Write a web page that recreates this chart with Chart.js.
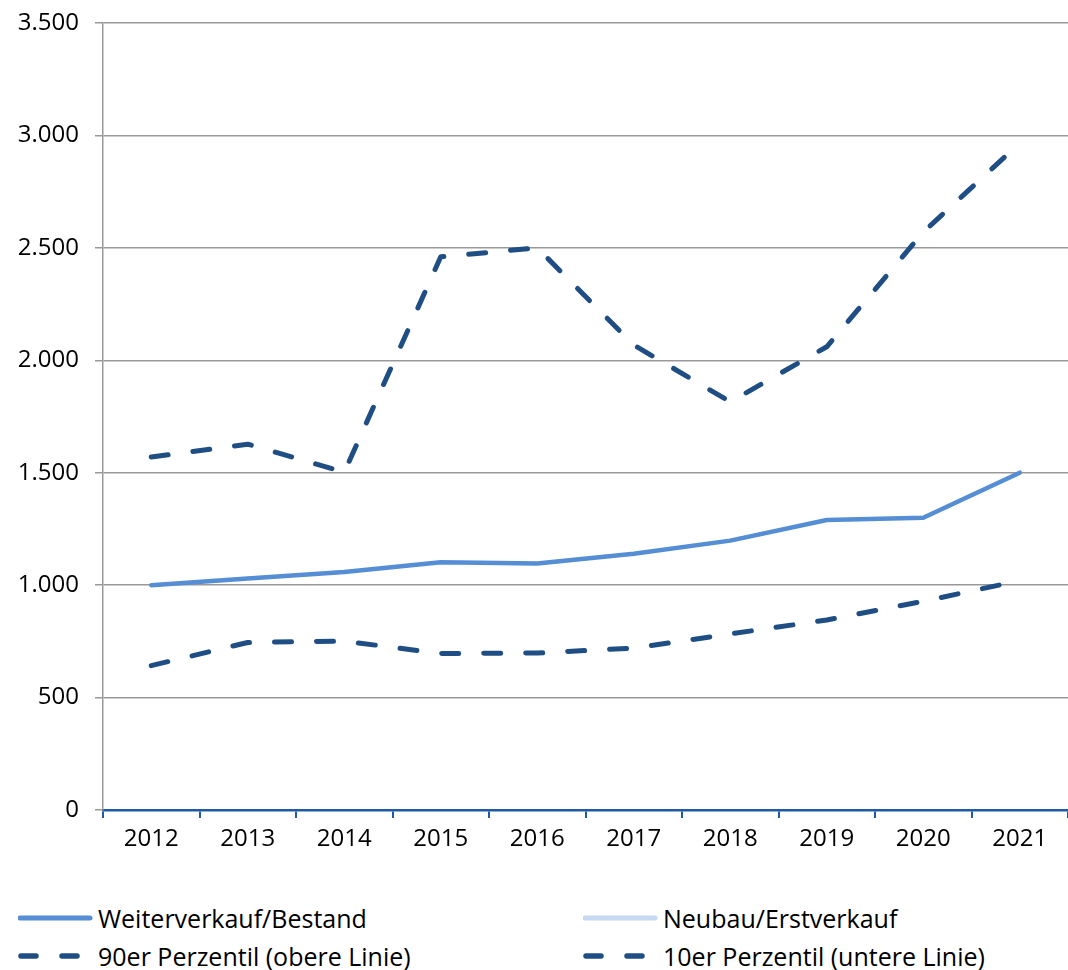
<!DOCTYPE html>
<html>
<head>
<meta charset="utf-8">
<script src="https://cdn.jsdelivr.net/npm/chart.js@4/dist/chart.umd.min.js"></script>
<style>
  html, body { margin: 0; padding: 0; background: #fff; overflow: hidden; }
  #wrap { position: relative; width: 1068px; height: 970px; overflow: hidden; }
  #box { position: absolute; left: 0; top: -5px; width: 1068px; height: 875px; }
  #legend { position: absolute; left: 0; top: 900px; width: 1068px; font-family: "Open Sans", sans-serif; font-size: 25px; color: #000; }
  .item { position: absolute; display: flex; align-items: center; height: 36px; }
  .item svg { margin-right: 4px; }
</style>
</head>
<body>
<div id="wrap">
  <div id="box"><canvas id="chart"></canvas></div>
  <div id="legend"></div>
</div>
<script>
const years = ['2012', '2013', '2014', '2015', '2016', '2017', '2018', '2019', '2020', '2021']
const resale = [1000, 1030, 1058, 1102, 1096, 1140, 1198, 1290, 1300, 1500]
const newBuild = []
const p90 = [1570, 1627, 1502, 2460, 2500, 2068, 1815, 2060, 2570, 2966]
const p10 = [642, 745, 751, 696, 698, 720, 783, 845, 928, 1020]

const lightBlue = '#558ed5'
const paleBlue = '#c6d9f1'
const darkBlue = '#1f4e84'
const dash = [17, 25]

const datasets = [
  { label: 'Weiterverkauf/Bestand', data: resale, borderColor: lightBlue, borderWidth: 4.5, legendPos: [18, 0] },
  { label: 'Neubau/Erstverkauf', data: newBuild, borderColor: paleBlue, borderWidth: 4.5, legendPos: [583, 0] },
  { label: '90er Perzentil (obere Linie)', data: p90, borderColor: darkBlue, borderWidth: 5, borderDash: dash, legendPos: [18, 38] },
  { label: '10er Perzentil (untere Linie)', data: p10, borderColor: darkBlue, borderWidth: 5, borderDash: dash, legendPos: [583, 38] }
].map((d) => ({
  ...d,
  backgroundColor: d.borderColor,
  pointRadius: 0,
  pointHoverRadius: 0,
  tension: 0,
  borderCapStyle: 'round',
  borderJoinStyle: 'round',
  fill: false
}))

const tickFont = { family: 'Open Sans', size: 24 }

const chart = new Chart(document.getElementById('chart'), {
  type: 'line',
  data: { labels: years, datasets },
  options: {
    responsive: true,
    maintainAspectRatio: false,
    animation: false,
    layout: { padding: { left: 0, top: 0, right: 0, bottom: 0 } },
    plugins: { legend: { display: false }, tooltip: { enabled: false } },
    scales: {
      x: {
        offset: true,
        grid: { drawOnChartArea: false, color: '#1f5aa6', lineWidth: 2, tickLength: 8, offset: true },
        border: { color: '#1f5aa6', width: 2.5 },
        ticks: { color: '#000', font: tickFont, padding: 7, maxRotation: 0 },
        afterFit: (axis) => { axis.height = 60 }
      },
      y: {
        min: 0,
        max: 3500,
        grid: { color: '#999999', lineWidth: 1.5, tickLength: 8 },
        border: { color: '#999999', width: 1.5 },
        ticks: {
          stepSize: 500,
          color: '#000',
          font: { ...tickFont, lineHeight: 1 },
          padding: 16,
          callback: (v) => v.toLocaleString('de-DE')
        },
        afterFit: (axis) => { axis.width = 103 }
      }
    }
  }
})

const legend = document.getElementById('legend')
chart.data.datasets.forEach((d) => {
  const el = document.createElement('div')
  el.className = 'item'
  el.style.left = d.legendPos[0] + 'px'
  el.style.top = d.legendPos[1] + 'px'
  const dashAttr = d.borderDash ? 'stroke-dasharray="15 26"' : ''
  el.innerHTML =
    `<svg width="76" height="10"><line x1="${d.borderDash ? 3 : 2}" y1="5" x2="${d.borderDash ? 73 : 72}" y2="5" ` +
    `stroke="${d.borderColor}" stroke-width="${d.borderWidth + 0.5}" stroke-linecap="round" ${dashAttr}/></svg>` +
    `<span>${d.label}</span>`
  legend.appendChild(el)
})
</script>
</body>
</html>
